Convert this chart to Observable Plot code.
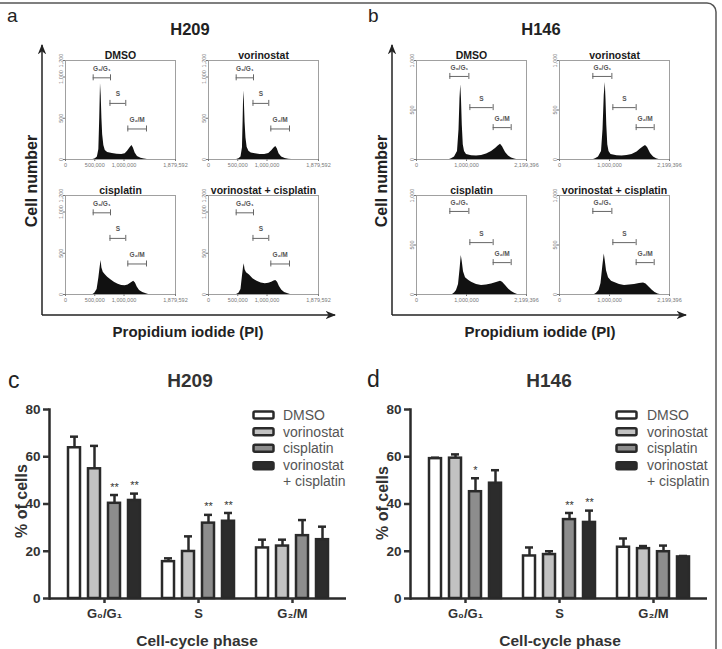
<!DOCTYPE html>
<html><head><meta charset="utf-8">
<script src="https://cdn.jsdelivr.net/npm/d3@7"></script>
<script src="https://cdn.jsdelivr.net/npm/@observablehq/plot@0.6"></script>
<style>
body{margin:0;background:#fff;}
#fig{position:relative;width:722px;height:649px;overflow:hidden;background:#fff;font-family:"Liberation Sans",Arial,sans-serif;}
</style></head><body><div id="fig"></div><script>
// ---------- DATA ----------
// histogram x ticks / y ticks
const h209XTicks = [0, 500000, 1000000, 1879592];
const h146XTicks = [0, 1000000, 2199396];
const h209YTicks = [0, 500, 1000, 1200];
const h146YTicks = [0, 500, 1000];
const histTitles = ["DMSO", "vorinostat", "cisplatin", "vorinostat + cisplatin"];
// histogram profiles: [PI signal (thousands), cell number]
const h209_DMSO = [[470,0],[510,10],[545,30],[570,120],[585,500],[598,920],[610,780],[622,500],[635,300],[655,170],[680,110],[720,85],[800,72],[880,65],[960,62],[1020,70],[1060,100],[1100,140],[1135,170],[1160,140],[1190,80],[1230,35],[1290,15],[1350,5],[1400,0]];
const h209_vorinostat = [[480,0],[520,10],[555,30],[580,140],[592,480],[602,830],[612,720],[625,450],[640,260],[660,150],[690,100],[730,80],[800,70],[880,62],[960,60],[1030,72],[1080,105],[1120,140],[1150,157],[1175,130],[1205,70],[1250,30],[1310,12],[1370,4],[1420,0]];
const h209_cisplatin = [[470,0],[500,15],[540,60],[570,200],[592,330],[608,412],[622,320],[645,270],[680,240],[720,210],[780,175],[840,145],[900,125],[960,110],[1020,105],[1070,115],[1120,140],[1165,160],[1195,140],[1225,90],[1265,50],[1320,25],[1380,8],[1420,0]];
const h209_combo = [[480,0],[520,15],[555,60],[580,220],[597,320],[610,372],[625,300],[650,265],[700,235],[760,190],[830,160],[900,140],[970,130],[1030,135],[1080,150],[1120,165],[1150,170],[1180,150],[1210,100],[1250,55],[1300,25],[1360,8],[1400,0]];
const h146_DMSO = [[660,0],[700,8],[760,25],[820,80],[850,300],[870,620],[885,754],[900,600],[915,350],[935,150],[960,80],[1000,50],[1100,38],[1200,35],[1300,40],[1400,55],[1500,80],[1580,110],[1640,140],[1680,155],[1720,130],[1780,70],[1840,35],[1900,15],[1960,5],[2000,0]];
const h146_vorinostat = [[680,0],[720,8],[780,25],[840,80],[870,300],[895,650],[915,778],[930,600],[945,350],[965,150],[990,80],[1030,50],[1150,38],[1250,35],[1350,40],[1450,50],[1550,75],[1620,105],[1680,130],[1720,141],[1760,120],[1820,60],[1880,25],[1940,8],[1990,0]];
const h146_cisplatin = [[720,0],[760,15],[800,40],[840,100],[870,250],[895,393],[915,330],[940,230],[980,170],[1040,145],[1100,125],[1200,100],[1300,90],[1400,95],[1500,105],[1600,120],[1680,133],[1720,125],[1780,90],[1840,55],[1900,30],[1960,12],[2020,0]];
const h146_combo = [[700,0],[740,12],[790,40],[830,110],[865,280],[895,410],[915,340],[940,240],[980,170],[1040,135],[1100,120],[1200,100],[1300,92],[1400,95],[1500,100],[1600,110],[1680,117],[1730,105],[1790,75],[1850,45],[1910,20],[1970,6],[2010,0]];
// gate brackets: label, start, end (PI), height (cells)
const gateLabels = ["G₀/G₁", "S", "G₂/M"];
const h209GateStart = [473000, 760000, 1065000];
const h209GateEnd = [769000, 1030000, 1384000];
const h209GateY = [990, 680, 370];
const h146GateStart = [667000, 1067000, 1533000];
const h146GateEnd = [1047000, 1533000, 1893000];
const h146GateY = [839, 524, 322];
// bar charts
const phases = ["G₀/G₁", "S", "G₂/M"];
const conditions = ["DMSO", "vorinostat", "cisplatin", "vorinostat + cisplatin"];
const barYTicks = [0, 20, 40, 60, 80];
// rows: phase, columns: condition
const h209Mean = [[63.8, 54.9, 40.3, 41.5], [15.6, 19.9, 31.9, 32.7], [21.4, 22.2, 26.6, 24.9]];
const h209Top  = [[68.5, 64.6, 43.8, 44.4], [17.0, 26.3, 35.4, 36.2], [24.9, 24.9, 33.2, 30.4]];
const h209Stars = [["", "", "**", "**"], ["", "", "**", "**"], ["", "", "", ""]];
const h146Mean = [[59.2, 59.4, 45.2, 48.8], [18.0, 18.6, 33.4, 32.2], [21.7, 21.1, 19.8, 17.6]];
const h146Top  = [[59.6, 61.0, 50.9, 54.3], [21.6, 20.0, 36.2, 37.2], [25.4, 22.2, 22.4, 18.0]];
const h146Stars = [["", "", "*", ""], ["", "", "**", "**"], ["", "", "", ""]];

// ---------- STYLE ----------
const FONT = "Liberation Sans, Arial, sans-serif";
const barFills = ["#ffffff", "#c2c2c2", "#8d8d8d", "#2c2c2c"];
const ink = "#2a2a2a";

const fig = document.getElementById("fig");
function place(el, left, top) {
  el.style.position = "absolute";
  el.style.left = left + "px";
  el.style.top = top + "px";
  fig.appendChild(el);
}

function histogram(points, title, xmax, xticks, ymax, yticks, gs, ge, gy) {
  const ML = 12, MR = 14, MT = 18, MB = 12, FW = 110, FH = 99;
  const gates = gateLabels.map((l, i) => ({label: l, x1: gs[i], x2: ge[i], y: gy[i]}));
  return Plot.plot({
    width: FW + ML + MR, height: FH + MT + MB,
    marginLeft: ML, marginRight: MR, marginTop: MT, marginBottom: MB,
    style: {fontFamily: FONT, background: "transparent", overflow: "visible"},
    x: {domain: [0, xmax]},
    y: {domain: [0, ymax]},
    marks: [
      Plot.areaY(points, {x: d => d[0] * 1000, y: d => d[1], fill: "#111"}),
      Plot.frame({stroke: "#a0a0a0", strokeWidth: 1}),
      Plot.axisX({ticks: xticks, tickFormat: d3.format(","), tickSize: 2, tickPadding: 1.5, fontSize: 5.5, color: "#777", label: null}),
      Plot.axisY({ticks: yticks, tickFormat: d3.format(","), tickSize: 2, tickPadding: 1, tickRotate: -90, fontSize: 5.5, color: "#777", label: null}),
      Plot.ruleY(gates, {x1: "x1", x2: "x2", y: "y", stroke: "#666", strokeWidth: 1}),
      Plot.ruleX(gates, {x: "x1", y1: "y", y2: "y", insetTop: -3, insetBottom: -3, stroke: "#666", strokeWidth: 1}),
      Plot.ruleX(gates, {x: "x2", y1: "y", y2: "y", insetTop: -3, insetBottom: -3, stroke: "#666", strokeWidth: 1}),
      Plot.text(gates, {x: d => (d.x1 + d.x2) / 2, y: "y", text: "label", dy: -9, fontSize: 6.5, fontWeight: "bold", fill: "#555"}),
      Plot.text([title], {frameAnchor: "top", dy: -9, text: d => d, fontSize: 10.5, fontWeight: "bold", fill: "#1a1a1a"})
    ]
  });
}

const histA = [h209_DMSO, h209_vorinostat, h209_cisplatin, h209_combo];
const histB = [h146_DMSO, h146_vorinostat, h146_cisplatin, h146_combo];
const layoutA = [[65, 60], [208, 60], [65, 195], [208, 195]];
const layoutB = [[416, 60], [559, 60], [416, 195], [559, 195]];
histA.forEach((p, i) => place(histogram(p, histTitles[i], 1879592, h209XTicks, 1200, h209YTicks, h209GateStart, h209GateEnd, h209GateY), layoutA[i][0] - 12, layoutA[i][1] - 18));
histB.forEach((p, i) => place(histogram(p, histTitles[i], 2199396, h146XTicks, 1000, h146YTicks, h146GateStart, h146GateEnd, h146GateY), layoutB[i][0] - 12, layoutB[i][1] - 18));

function barChart(means, tops, stars) {
  const rows = [];
  phases.forEach((p, j) => conditions.forEach((c, i) => rows.push({phase: p, cond: i, mean: means[j][i], top: tops[j][i], star: stars[j][i]})));
  const ML = 49, MR = 12, MT = 14, MB = 34, FW = 297, FH = 189;
  const marks = [];
  conditions.forEach((c, i) => {
    const d = rows.filter(r => r.cond === i);
    marks.push(Plot.ruleX(d, {x: "phase", y1: "mean", y2: "top", dx: -30 + 20 * i, stroke: ink, strokeWidth: 2.5}));
    marks.push(Plot.tickY(d, {x: "phase", y: "top", insetLeft: 6 + 20 * i, insetRight: 66 - 20 * i, stroke: ink, strokeWidth: 2.5}));
    marks.push(Plot.barY(d, {x: "phase", y: "mean", insetLeft: 4 + 20 * i, insetRight: 64 - 20 * i, fill: barFills[i], stroke: ink, strokeWidth: 2.5}));
    marks.push(Plot.text(d.filter(r => r.star), {x: "phase", y: "top", text: "star", dx: -30 + 20 * i, dy: -8, fontSize: 11, fill: "#333"}));
  });
  return Plot.plot({
    width: ML + FW + MR, height: MT + FH + MB,
    marginLeft: ML, marginRight: MR, marginTop: MT, marginBottom: MB,
    style: {fontFamily: FONT, background: "transparent", overflow: "visible"},
    x: {domain: phases, paddingInner: 0.153, paddingOuter: 0.148},
    y: {domain: [0, 80]},
    marks: [
      ...marks,
      Plot.frame({anchor: "left", stroke: ink, strokeWidth: 2.5}),
      Plot.ruleY([0], {stroke: ink, strokeWidth: 2.5}),
      Plot.axisY({ticks: barYTicks, tickSize: 6, tickPadding: 3, strokeWidth: 2.5, fontSize: 13.5, fontWeight: "bold", color: "#333", label: null}),
      Plot.axisX({tickSize: 5, tickPadding: 5, strokeWidth: 2.5, fontSize: 13, fontWeight: "bold", color: "#333", label: null})
    ]
  });
}
place(barChart(h209Mean, h209Top, h209Stars), 0, 395);
place(barChart(h146Mean, h146Top, h146Stars), 361, 395);

// ---------- overlay: titles, labels, arrows, legends ----------
const svg = d3.create("svg").attr("width", 722).attr("height", 649)
  .style("position", "absolute").style("left", "0px").style("top", "0px")
  .style("font-family", FONT).style("pointer-events", "none");
svg.append("rect").attr("x", -10).attr("y", 3).attr("width", 726).attr("height", 700).attr("rx", 9)
  .attr("fill", "none").attr("stroke", "#555").attr("stroke-width", 1.5);
const defs = svg.append("defs");
defs.append("marker").attr("id", "ah").attr("viewBox", "0 0 10 10").attr("refX", 9).attr("refY", 5)
  .attr("markerWidth", 7).attr("markerHeight", 7).attr("orient", "auto")
  .append("path").attr("d", "M0,1 L10,5 L0,9 L3,5 Z").attr("fill", "#222");
function arrow(x1, y1, x2, y2) {
  svg.append("line").attr("x1", x1).attr("y1", y1).attr("x2", x2).attr("y2", y2)
    .attr("stroke", "#222").attr("stroke-width", 1.5).attr("marker-end", "url(#ah)");
}
arrow(42, 315, 42, 45); arrow(42, 315, 335, 315);
arrow(392, 315, 392, 45); arrow(392, 315, 686, 315);

function txt(s, x, y, size, weight, anchor, rot, fill) {
  const t = svg.append("text").attr("x", 0).attr("y", 0)
    .attr("transform", `translate(${x},${y})` + (rot ? ` rotate(${rot})` : ""))
    .attr("font-size", size).attr("font-weight", weight).attr("text-anchor", anchor)
    .attr("fill", fill || "#222").text(s);
  return t;
}
txt("a", 7, 22, 19, "normal", "start");
txt("b", 368, 22, 19, "normal", "start");
txt("H209", 190, 35, 16.5, "bold", "middle");
txt("H146", 541, 35, 16.5, "bold", "middle");
txt("Cell number", 37, 181, 16, "bold", "middle", -90);
txt("Cell number", 387, 181, 16, "bold", "middle", -90);
txt("Propidium iodide (PI)", 188, 337, 15, "bold", "middle");
txt("Propidium iodide (PI)", 540, 337, 15, "bold", "middle");
txt("c", 8, 388, 23, "normal", "start");
txt("d", 367, 387, 23, "normal", "start");
txt("H209", 190, 387, 19, "bold", "middle", 0, "#333");
txt("H146", 549, 387, 19, "bold", "middle", 0, "#333");
txt("% of cells", 27, 501, 16, "bold", "middle", -90, "#333");
txt("% of cells", 388, 503, 16, "bold", "middle", -90, "#333");
txt("Cell-cycle phase", 197, 646, 15.5, "bold", "middle", 0, "#333");
txt("Cell-cycle phase", 560, 646, 15.5, "bold", "middle", 0, "#333");

function legend(bx, tx) {
  const boxY = [415, 431.7, 448.3, 465.7];
  boxY.forEach((cy, i) => {
    svg.append("rect").attr("x", bx).attr("y", cy - 3.5).attr("width", 20).attr("height", 7).attr("rx", 1.5)
      .attr("fill", barFills[i]).attr("stroke", ink).attr("stroke-width", 2.5);
  });
  const lines = ["DMSO", "vorinostat", "cisplatin", "vorinostat", "+ cisplatin"];
  const base = [420, 437, 453, 470, 486];
  lines.forEach((s, i) => txt(s, tx, base[i], 14, "normal", "start", 0, "#555"));
}
legend(253.5, 283);
legend(616.5, 647);
fig.appendChild(svg.node());
</script></body></html>
